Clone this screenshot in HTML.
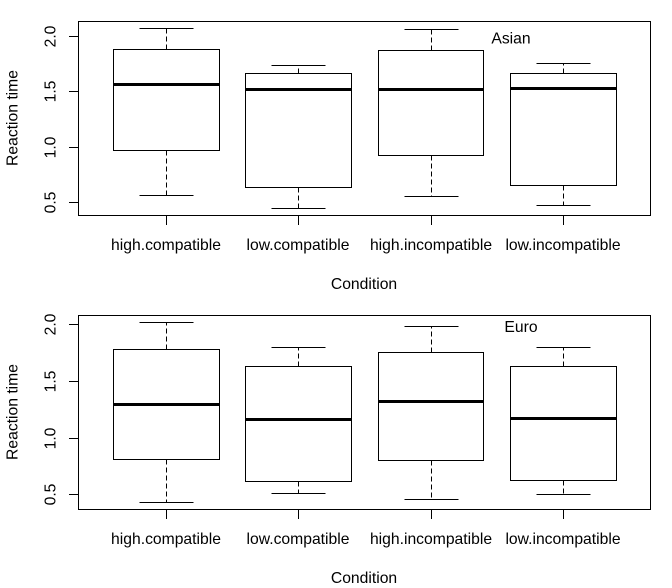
<!DOCTYPE html>
<html>
<head>
<meta charset="utf-8">
<title>Reaction time by condition</title>
<style>
html,body{margin:0;padding:0;background:#fff;width:672px;height:588px;overflow:hidden}
svg{display:block}
text{font-family:"Liberation Sans",Arial,sans-serif;font-size:15.7px;fill:#000}
</style>
</head>
<body>
<svg id="chart" width="672" height="588" viewBox="0 0 672 588" xmlns="http://www.w3.org/2000/svg"></svg>
<script>
const categories = ["high.compatible", "low.compatible", "high.incompatible", "low.incompatible"];
const yTickValues = [0.5, 1.0, 1.5, 2.0];
const yTickLabels = ["0.5", "1.0", "1.5", "2.0"];
const yTitle = "Reaction time";
const xTitle = "Condition";

// whisker low, q1, median, q3, whisker high
const asianLow = [0.563, 0.446, 0.554, 0.473];
const asianQ1 = [0.970, 0.636, 0.925, 0.654];
const asianMedian = [1.566, 1.521, 1.521, 1.530];
const asianQ3 = [1.883, 1.666, 1.873, 1.666];
const asianHigh = [2.072, 1.738, 2.063, 1.756];

const euroLow = [0.431, 0.511, 0.458, 0.502];
const euroQ1 = [0.811, 0.617, 0.802, 0.625];
const euroMedian = [1.297, 1.164, 1.323, 1.173];
const euroQ3 = [1.783, 1.633, 1.756, 1.633];
const euroHigh = [2.021, 1.800, 1.986, 1.800];

const NS = "http://www.w3.org/2000/svg";
const svg = document.getElementById("chart");
const snap = v => Math.floor(v) + 0.5;
const xPos = i => 166.5 + 132.25 * i;

function make(parent, tag, attrs, name) {
  const el = document.createElementNS(NS, tag);
  for (const k in attrs) el.setAttribute(k, attrs[k]);
  
  
  parent.appendChild(el);
  return el;
}
function line(parent, x1, y1, x2, y2, name, width, dash) {
  const attrs = {x1, y1, x2, y2, stroke: "#000", "stroke-width": width || 1};
  if (dash) attrs["stroke-dasharray"] = dash;
  return make(parent, "line", attrs, name);
}
function label(parent, str, x, y, name, rotate) {
  const attrs = {x, y, "text-anchor": "middle"};
  if (rotate) attrs.transform = "rotate(-90 " + x + " " + y + ")";
  const t = make(parent, "text", attrs, name);
  t.textContent = str;
  return t;
}

function panel(cfg) {
  const g = make(svg, "g", {}, cfg.key + "-panel");
  const yPos = v => cfg.y2 + (2 - v) * cfg.scale;

  make(g, "rect", {x: 78.5, y: cfg.top + 0.5, width: 572, height: 194, fill: "none", stroke: "#000", "stroke-width": 1}, cfg.key + "-plot-frame");

  yTickValues.forEach((v, i) => {
    const y = snap(yPos(v));
    line(g, 69, y, 78.5, y, cfg.key + "-y-tick-" + yTickLabels[i]);
    label(g, yTickLabels[i], 55.5, y, cfg.key + "-y-tick-label-" + yTickLabels[i], true);
  });

  categories.forEach((c, i) => {
    const cx = xPos(i), sx = snap(cx);
    line(g, sx, cfg.top + 194.5, sx, cfg.top + 204, cfg.key + "-x-tick-" + c);
    label(g, c, sx - 0.5, cfg.top + 229, cfg.key + "-x-tick-label-" + c);

    const left = snap(cx - 52.9), right = snap(cx + 52.9);
    const yHigh = snap(yPos(cfg.high[i])), yQ3 = snap(yPos(cfg.q3[i]));
    const yMed = snap(yPos(cfg.median[i])), yQ1 = snap(yPos(cfg.q1[i]));
    const yLow = snap(yPos(cfg.low[i]));

    line(g, sx, yQ3, sx, yHigh, cfg.key + "-upper-whisker-" + c, 1, "5 3");
    line(g, sx, yQ1, sx, yLow, cfg.key + "-lower-whisker-" + c, 1, "5 3");
    line(g, sx - 27, yHigh, sx + 27, yHigh, cfg.key + "-upper-cap-" + c);
    line(g, sx - 27, yLow, sx + 27, yLow, cfg.key + "-lower-cap-" + c);
    make(g, "rect", {x: left, y: yQ3, width: right - left, height: yQ1 - yQ3, fill: "none", stroke: "#000", "stroke-width": 1}, cfg.key + "-box-" + c);
    line(g, left, yMed, right, yMed, cfg.key + "-median-" + c, 3);
  });

  label(g, yTitle, 17.5, cfg.top + 97, cfg.key + "-y-axis-title", true);
  label(g, xTitle, 364, cfg.top + 268, cfg.key + "-x-axis-title");
  label(g, cfg.title, cfg.titleX, cfg.titleY, cfg.key + "-group-label");
}

panel({key: "asian", title: "Asian", titleX: 511, titleY: 43.5, top: 21, y2: 36.5, scale: 110.67,
  low: asianLow, q1: asianQ1, median: asianMedian, q3: asianQ3, high: asianHigh});
panel({key: "euro", title: "Euro", titleX: 521, titleY: 332, top: 315, y2: 324.9, scale: 113.2,
  low: euroLow, q1: euroQ1, median: euroMedian, q3: euroQ3, high: euroHigh});
</script>
</body>
</html>
